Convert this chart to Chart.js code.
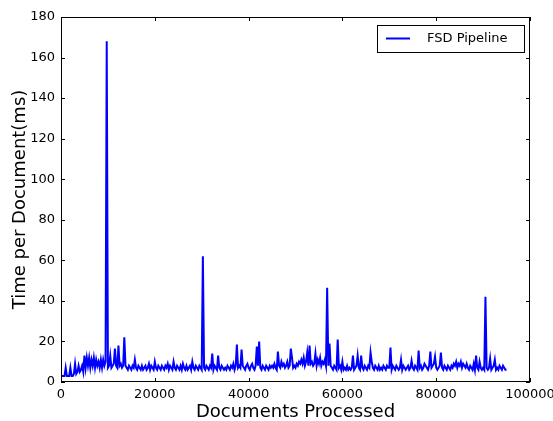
<!DOCTYPE html>
<html>
<head>
<meta charset="utf-8">
<script src="https://cdn.jsdelivr.net/npm/chart.js@4.4.0/dist/chart.umd.min.js"></script>
<style>
  html, body { margin: 0; padding: 0; background: #fff; }
  #wrap { width: 553px; height: 421px; }
</style>
</head>
<body>
<div id="wrap"><canvas id="chart" width="553" height="421"></canvas></div>
<script>
// time per document (ms), one reading every 250 documents, starting at 0
const docStep = 250;
const timePerDoc = [
    3, 3, 3, 3, 7, 3, 3, 3, 7, 3, 3, 4, 9, 4, 5, 8, 5, 6, 8, 5,
    13, 7, 12, 8, 12, 7, 11, 8, 12, 7, 11, 8, 10, 7, 11, 7, 11, 8, 10, 168,
    7, 8, 13, 7, 8, 9, 16.5, 8, 7, 18, 8, 9, 7, 8, 22, 8, 7, 6, 8, 7,
    6, 8, 7, 11, 7, 6, 8, 7, 6, 8, 6, 7, 8, 6, 7, 9, 6, 8, 7, 6,
    10, 7, 6, 8, 7, 6, 8, 7, 6, 8, 7, 9, 6, 8, 7, 6, 10, 7, 6, 8,
    7, 6, 8, 6, 9, 7, 6, 8, 6, 7, 8, 6, 10, 7, 6, 8, 7, 6, 8, 7,
    6, 62, 7, 6, 8, 7, 6, 8, 7, 14, 6, 8, 7, 6, 13, 7, 6, 8, 7, 6,
    7, 6, 8, 7, 6, 8, 7, 9, 6, 8, 18.5, 7, 8, 7, 16, 8, 7, 6, 8, 9,
    7, 6, 8, 9, 7, 6, 8, 17.5, 8, 20, 7, 6, 8, 7, 6, 8, 7, 6, 8, 7,
    8, 7, 9, 7, 6, 15, 8, 7, 10, 8, 9, 7, 8, 10, 7, 8, 16.5, 12, 7, 8,
    7, 9, 8, 10, 9, 11, 9, 12, 8, 10, 14.5, 8, 18, 9, 10, 8, 9, 14, 8, 11,
    9, 12, 8, 10, 9, 11, 8, 46.5, 8, 19, 8, 7, 6, 8, 7, 6, 21, 7, 8, 6,
    10, 6, 7, 6, 8, 6, 7, 6, 7, 13, 6, 7, 8, 13, 7, 6, 13, 7, 6, 8,
    7, 6, 8, 7, 14.5, 10, 7, 6, 8, 7, 6, 8, 6, 7, 6, 8, 7, 6, 8, 7,
    7, 17, 6, 8, 7, 6, 8, 7, 6, 7, 11, 6, 8, 7, 6, 7, 8, 6, 7, 10.5,
    7, 6, 8, 7, 6, 15.5, 7, 8, 6, 7, 9, 8, 7, 6, 8, 15, 7, 8, 9, 12.5,
    7, 6, 7, 8, 14.5, 7, 6, 8, 7, 6, 8, 7, 6, 8, 7, 9, 8, 10, 7, 9,
    8, 10, 7, 9, 8, 7, 9, 7, 6, 8, 7, 6, 9, 6, 13, 7, 6, 10, 7, 6,
    7, 6, 42, 7, 6, 7, 11.5, 6, 7, 8, 11, 6, 7, 6, 8, 7, 6, 8, 7, 6,
    6
];
const xTicks = [0, 20000, 40000, 60000, 80000, 100000];
const yTicks = [0, 20, 40, 60, 80, 100, 120, 140, 160, 180];

const points = timePerDoc.map((v, i) => ({ x: i * docStep, y: v }));

// matplotlib-ish frame: box on all sides, ticks pointing inward, boxed legend
const frame = {
    id: 'frame',
    afterDraw(chart) {
        const ctx = chart.ctx;
        const a = chart.chartArea;
        const xs = chart.scales.x, ys = chart.scales.y;
        ctx.save();
        ctx.strokeStyle = '#000';
        ctx.lineWidth = 1;
        ctx.strokeRect(a.left + 0.5, a.top + 0.5, a.right - a.left - 1, a.bottom - a.top - 1);
        ctx.beginPath();
        xTicks.forEach(t => {
            const px = Math.round(xs.getPixelForValue(t)) + 0.5;
            ctx.moveTo(px, a.bottom); ctx.lineTo(px, a.bottom - 4);
            ctx.moveTo(px, a.top); ctx.lineTo(px, a.top + 4);
        });
        yTicks.forEach(t => {
            const py = Math.round(ys.getPixelForValue(t)) + 0.5;
            ctx.moveTo(a.left, py); ctx.lineTo(a.left + 4, py);
            ctx.moveTo(a.right, py); ctx.lineTo(a.right - 4, py);
        });
        ctx.stroke();

        // legend
        const ds = chart.data.datasets[0];
        ctx.fillStyle = '#fff';
        ctx.fillRect(377, 25, 147, 27);
        ctx.strokeRect(377.5, 25.5, 147, 27);
        ctx.strokeStyle = ds.borderColor;
        ctx.lineWidth = 2;
        ctx.beginPath();
        ctx.moveTo(386, 38.5); ctx.lineTo(410, 38.5);
        ctx.stroke();
        ctx.fillStyle = '#000';
        ctx.font = '13px "DejaVu Sans"';
        ctx.textBaseline = 'middle';
        ctx.fillText(ds.label, 427, 38.5);
        ctx.restore();
    }
};

new Chart(document.getElementById('chart').getContext('2d'), {
    type: 'line',
    data: {
        datasets: [{
            label: 'FSD Pipeline',
            data: points,
            borderColor: '#0000ff',
            borderWidth: 2,
            pointRadius: 0,
            tension: 0,
            fill: false
        }]
    },
    options: {
        responsive: false,
        animation: false,
        layout: { padding: { left: 0, right: 23, top: 17, bottom: 0 } },
        plugins: {
            legend: { display: false },
            tooltip: { enabled: false }
        },
        scales: {
            x: {
                type: 'linear',
                min: 0,
                max: 100000,
                afterFit: s => { s.height = 39; s.paddingLeft = 0; s.paddingRight = 0; },
                afterBuildTicks: s => { s.ticks = xTicks.map(v => ({ value: v })); },
                grid: { display: false, drawTicks: false },
                border: { display: false },
                ticks: {
                    color: '#000',
                    font: { family: 'DejaVu Sans', size: 13 },
                    padding: 5,
                    maxRotation: 0,
                    callback: v => String(v)
                },
                title: {
                    display: true,
                    text: 'Documents Processed',
                    color: '#000',
                    font: { family: 'DejaVu Sans', size: 18, lineHeight: 1 },
                    padding: { top: 0, bottom: 0 }
                }
            },
            y: {
                min: 0,
                max: 180,
                afterFit: s => { s.width = 61; s.paddingTop = 0; s.paddingBottom = 0; },
                afterBuildTicks: s => { s.ticks = yTicks.map(v => ({ value: v })); },
                grid: { display: false, drawTicks: false },
                border: { display: false },
                ticks: {
                    color: '#000',
                    font: { family: 'DejaVu Sans', size: 13 },
                    padding: 6,
                    callback: v => String(v)
                },
                title: {
                    display: true,
                    text: 'Time per Document(ms)',
                    color: '#000',
                    font: { family: 'DejaVu Sans', size: 18, lineHeight: 1 },
                    padding: { top: 11, bottom: 0 }
                }
            }
        }
    },
    plugins: [frame]
});
</script>
</body>
</html>
